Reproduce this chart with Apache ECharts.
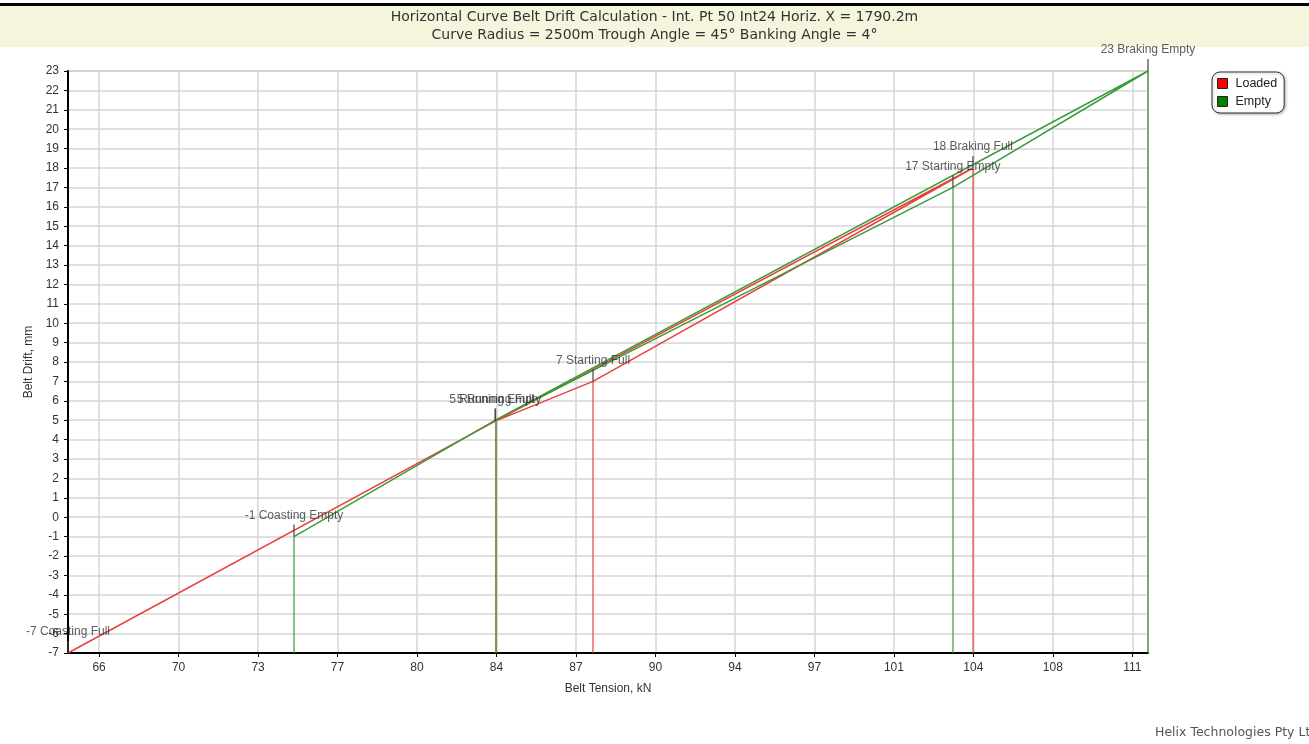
<!DOCTYPE html>
<html>
<head>
<meta charset="utf-8">
<script src="https://cdn.jsdelivr.net/npm/echarts@6/dist/echarts.min.js"></script>
<style>
  html, body { margin: 0; padding: 0; background: #fff; }
  #chart { width: 1309px; height: 744px; }
</style>
</head>
<body>
<div id="chart"></div>
<script>
// cases, in the order Coasting, Running, Starting, Braking
const cases = ['Coasting', 'Running', 'Starting', 'Braking']

// Loaded belt: tension kN / drift mm
const loadedTension = [64.95, 83.5, 87.74, 104.23]
const loadedDrift = [-7.0, 4.95, 7.0, 18.0]

// Empty belt
const emptyTension = [74.76, 83.5, 103.36, 111.83]
const emptyDrift = [-1.0, 5.0, 17.0, 23.0]

// order the points are joined in (running point is joined to braking too)
const pathOrder = [0, 1, 2, 3, 1]

// x tick positions (labels shown rounded)
const xTicks = [66.3, 69.75, 73.2, 76.65, 80.1, 83.55, 87.0, 90.45, 93.9, 97.35, 100.8, 104.25, 107.7, 111.15]

const yMin = -7
const yMax = 23

const FONT = 'Liberation Sans'
const TITLE_FONT = 'DejaVu Sans'

let myChart = echarts.init(document.getElementById('chart'))

function linePoints(tension, drift) {
  return pathOrder.map(i => [tension[i], drift[i]])
}

// vertical lines from each point down to the x axis
function dropLines(tension, drift) {
  return tension.map((t, i) => [{coord: [t, yMin]}, {coord: [t, drift[i]]}])
}

function callouts(tension, drift, suffix) {
  return tension.map((t, i) => ({
    value: [t, drift[i]],
    name: `${Math.round(drift[i])} ${cases[i]} ${suffix}`
  }))
}

myChart.setOption({
  animation: false,
  textStyle: {fontFamily: FONT},
  title: {
    text: 'Horizontal Curve Belt Drift Calculation - Int. Pt 50 Int24 Horiz. X = 1790.2m\nCurve Radius = 2500m Trough Angle = 45° Banking Angle = 4°',
    left: 'center',
    top: 3,
    textStyle: {fontSize: 14, fontWeight: 'normal', color: '#333', lineHeight: 18, fontFamily: TITLE_FONT}
  },
  graphic: [
    {type: 'rect', z: -10, shape: {x: 0, y: 6, width: 1309, height: 41}, style: {fill: '#f5f4dc'}},
    {type: 'rect', z: -10, shape: {x: 0, y: 3, width: 1309, height: 3}, style: {fill: '#000'}},
    {type: 'text', left: 1155, top: 726, style: {text: 'Helix Technologies Pty Ltd', fill: '#555', font: '12.5px ' + TITLE_FONT}}
  ],
  legend: {
    orient: 'vertical',
    left: 1212,
    top: 72,
    icon: 'rect',
    itemWidth: 10,
    itemHeight: 10,
    itemGap: 5,
    padding: [5, 7, 5, 5],
    borderColor: '#333',
    borderWidth: 1,
    borderRadius: 8,
    backgroundColor: '#fff',
    shadowBlur: 3,
    shadowColor: 'rgba(0,0,0,0.3)',
    shadowOffsetX: 1,
    shadowOffsetY: 1,
    textStyle: {fontSize: 12.5, color: '#222', padding: [0, 0, 0, 3]},
    data: [
      {name: 'Loaded', itemStyle: {color: '#ff0000', borderColor: '#222', borderWidth: 1}},
      {name: 'Empty', itemStyle: {color: '#008000', borderColor: '#222', borderWidth: 1}}
    ]
  },
  grid: {
    left: 68,
    right: 161,
    top: 71,
    bottom: 91,
    show: true,
    borderColor: '#999',
    borderWidth: 1
  },
  xAxis: {
    type: 'value',
    min: loadedTension[0],
    max: emptyTension[3],
    name: 'Belt Tension, kN',
    nameLocation: 'middle',
    nameGap: 30,
    nameTextStyle: {fontSize: 12, color: '#333'},
    axisLine: {onZero: false, lineStyle: {color: '#000', width: 2}},
    axisTick: {show: true, length: 4, customValues: xTicks, lineStyle: {color: '#000'}},
    axisLabel: {
      customValues: xTicks,
      fontSize: 12,
      color: '#333',
      margin: 9,
      formatter: v => Math.round(v)
    },
    splitLine: {show: true, lineStyle: {color: '#d6d6d6', width: 1.5}}
  },
  yAxis: {
    type: 'value',
    min: yMin,
    max: yMax,
    interval: 1,
    name: 'Belt Drift, mm',
    nameLocation: 'middle',
    nameGap: 27,
    nameTextStyle: {fontSize: 12, color: '#333'},
    axisLine: {show: true, onZero: false, lineStyle: {color: '#000', width: 2}},
    axisTick: {show: true, length: 4, lineStyle: {color: '#000'}},
    axisLabel: {fontSize: 12, color: '#333', margin: 9},
    splitLine: {show: true, lineStyle: {color: '#d6d6d6', width: 1.5}}
  },
  series: [
    {
      name: 'Loaded',
      type: 'line',
      color: '#e8413c',
      showSymbol: false,
      lineStyle: {width: 1.5},
      data: linePoints(loadedTension, loadedDrift),
      markLine: {
        silent: true,
        symbol: ['none', 'none'],
        label: {show: false},
        lineStyle: {color: '#e8413c', width: 1.5, type: 'solid', opacity: 0.8},
        data: dropLines(loadedTension, loadedDrift)
      },
      z: 3
    },
    {
      name: 'Empty',
      type: 'line',
      color: '#3b9a3b',
      showSymbol: false,
      lineStyle: {width: 1.5},
      data: linePoints(emptyTension, emptyDrift),
      markLine: {
        silent: true,
        symbol: ['none', 'none'],
        label: {show: false},
        lineStyle: {color: '#3b9a3b', width: 1.5, type: 'solid', opacity: 0.8},
        data: dropLines(emptyTension, emptyDrift)
      },
      z: 4
    },
    {
      // small callout ticks with the case labels
      name: 'callouts',
      type: 'scatter',
      symbol: 'rect',
      symbolSize: [1.5, 12],
      symbolOffset: [0, '-50%'],
      itemStyle: {color: '#444'},
      silent: true,
      z: 5,
      label: {
        show: true,
        position: 'top',
        distance: 3,
        fontSize: 12,
        color: '#333',
        formatter: p => p.name
      },
      data: callouts(loadedTension, loadedDrift, 'Full').concat(callouts(emptyTension, emptyDrift, 'Empty'))
    }
  ]
})
</script>
</body>
</html>
